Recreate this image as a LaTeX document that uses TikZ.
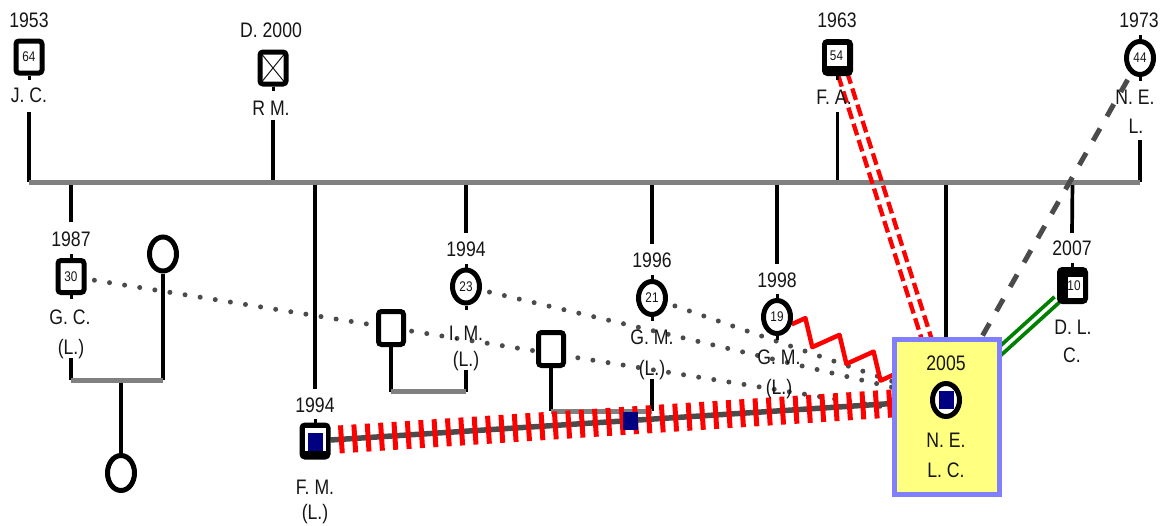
\documentclass[tikz,border=0pt]{standalone}
\usepackage{fontspec}
\setmainfont[FakeStretch=0.84]{Liberation Sans}
\usetikzlibrary{calc,shapes.geometric,decorations.pathmorphing}
\pgfdeclarelayer{back}
\pgfsetlayers{back,main}
\definecolor{navyblue}{RGB}{0,0,128}
\definecolor{bargray}{RGB}{128,128,128}
\definecolor{darkgray}{RGB}{75,75,75}
\definecolor{indexfill}{RGB}{255,255,128}
\definecolor{indexedge}{RGB}{128,128,255}
\definecolor{labelink}{RGB}{22,22,22}
\definecolor{tiegreen}{RGB}{0,128,0}
\begin{document}
\begin{tikzpicture}[x=1pt,y=-1pt,
  txt/.style={font=\fontsize{21pt}{24pt}\selectfont, text=labelink, inner sep=0pt, text height=15pt, text depth=0pt},
  agetxt/.style={font=\fontsize{14pt}{16pt}\selectfont, text=labelink, inner sep=0pt},
  male/.style={draw=black, line width=5pt, rounded corners=3pt, fill=white, minimum width=26pt, minimum height=32pt, inner sep=0pt, agetxt},
  female/.style={ellipse, draw=black, line width=5pt, fill=white, minimum width=27pt, minimum height=33pt, inner sep=0pt, agetxt},
  marked/.style={male, fill=black},
  stub/.style={draw=black, line width=3pt},
  kin/.style={draw=black, line width=3.7pt},
  bond/.style={draw=bargray, line width=5pt},
  dotline/.style={draw=darkgray, line width=5pt, line cap=round, dash pattern=on 0pt off 15.3pt, dash phase=7.3pt},
  zigline/.style={draw=red, line width=4.5pt, line join=round, decorate, decoration={zigzag, segment length=38pt, amplitude=11.5pt}},
  hatchbase/.style={draw=darkgray, line width=5.5pt},
  hatchticks/.style={draw=red, line width=28pt, dash pattern=on 5pt off 8.4pt, dash phase=5pt},
  navysq/.style={fill=navyblue, minimum width=15pt, minimum height=18pt, inner sep=0pt},
  redtie/.style={draw=red, line width=4.3pt, dash pattern=on 12pt off 5pt},
  greytie/.style={draw=darkgray, line width=5pt, dash pattern=on 14pt off 14pt},
  greentie/.style={draw=tiegreen, line width=3.8pt, double=white, double distance=3.4pt}
]
\useasboundingbox (0,0) rectangle (1167,525);

% ---------- parents' generation ----------
\node[male] (jc) at (29,57) {64};
\node[txt] (jcy) at (29,19.5) {1953};
\node[txt] (jcn) at (29,95) {J. C.};

\node[male, path picture={\draw[line width=1pt, labelink]
    (path picture bounding box.north west) -- (path picture bounding box.south east)
    (path picture bounding box.north east) -- (path picture bounding box.south west);}] (rm) at (273,68) {};
\node[txt] (rmy) at (271,30) {D. 2000};
\node[txt] (rmn) at (271,107.5) {R M.};

\node[marked] (fa) at (837.5,57.5) {};
\fill[white] ($(fa)+(-10.5,-12.5)$) rectangle ($(fa)+(9.5,8.5)$);
\node[agetxt] (faage) at ($(fa)+(-1,-2)$) {54};
\node[txt] (fay) at (837,19.5) {1963};
\node[txt] (fan) at (834,97) {F. A.};

\node[female] (nel) at (1140,58) {44};
\node[txt] (nely) at (1139,19.5) {1973};
\node[txt] (neln1) at (1135,97) {N. E.};
\node[txt] (neln2) at (1136,126) {L.};

% ---------- children's generation ----------
\node[male] (gc) at (71,276.5) {30};
\node[txt] (gcy) at (71,238.5) {1987};
\node[txt] (gcn1) at (70,317) {G. C.};
\node[txt] (gcn2) at (71,347) {(L.)};
\node[female, minimum height=34pt] (gcp) at (163,254) {};
\node[female, minimum height=35pt] (gck) at (121,473) {};

\node[marked] (fm) at (315,441) {};
\fill[white] ($(fm)+(-10.5,-13.5)$) rectangle ($(fm)+(10.5,10)$);
\fill[navyblue] ($(fm)+(-7.5,-8)$) rectangle ($(fm)+(7.5,10)$);
\node[txt] (fmy) at (315,405) {1994};
\node[txt] (fmn1) at (315,487) {F. M.};
\node[txt] (fmn2) at (315,512) {(L.)};

\node[female] (im) at (466,286.5) {23};
\node[txt] (imy) at (466,249) {1994};
\node[txt] (imn1) at (466,333) {I. M.};
\node[txt] (imn2) at (466,359) {(L.)};
\node[male, minimum width=25pt, minimum height=33pt] (imp) at (391,328) {};

\node[female] (gma) at (652,298) {21};
\node[txt] (gmay) at (652,260) {1996};
\node[txt] (gman1) at (652,337) {G. M.};
\node[txt] (gman2) at (652,367.5) {(L.)};
\node[male, minimum width=25pt, minimum height=33pt] (gmap) at (551,349) {};

\node[female] (gmb) at (777,317) {19};
\node[txt] (gmby) at (777,280) {1998};
\node[txt] (gmbn1) at (779,357) {G. M.};
\node[txt] (gmbn2) at (779,387) {(L.)};

\node[draw=indexedge, fill=indexfill, line width=5pt, minimum width=105pt, minimum height=155pt, inner sep=0pt] (idx) at (947,417) {};
\node[txt] (idxy) at (946,363) {2005};
\node[female, minimum height=33pt] (idxc) at (946,400) {};
\node[navysq] (idxsq) at (idxc) {};
\node[txt] (idxn1) at (946,440) {N. E.};
\node[txt] (idxn2) at (946,470) {L. C.};

\node[marked] (dlc) at (1072.5,285.5) {};
\fill[white] ($(dlc)+(-4.5,-9)$) rectangle ($(dlc)+(10.5,12.5)$);
\node[agetxt] (dlcage) at (1074,286) {10};
\node[txt] (dlcy) at (1072,248) {2007};
\node[txt] (dlcn1) at (1073,327) {D. L.};
\node[txt] (dlcn2) at (1072,355) {C.};

% small stems on the symbols
\draw[stub] (jc.south) -- ++(0,4);
\draw[stub] (rm.south) -- ++(0,4);
\draw[stub] (fa.south) -- ++(0,4);
\draw[stub] (nel.north) -- ++(0,-4);
\draw[stub] (nel.south) -- ++(0,4);
\draw[stub] (gc.north) -- ++(0,-4);
\draw[stub] (gc.south) -- ++(0,4);
\draw[stub] (fm.north) -- ++(0,-4);
\draw[stub] (im.north) -- ++(0,-4);
\draw[stub] (im.south) -- ++(0,4);
\draw[stub] (gma.north) -- ++(0,-4);
\draw[stub] (gma.south) -- ++(0,4);
\draw[stub] (gmb.north) -- ++(0,-4);
\draw[stub] (gmb.south) -- ++(0,4);
\draw[stub] (dlc.north) -- ++(0,-4);

\begin{pgfonlayer}{back}
  % family lines
  \coordinate (barL) at (29,182);
  \coordinate (barR) at (1140,182);
  \draw[kin] ($(jc |- jcn.south)+(0,9.5)$) -- (jc |- barL);
  \draw[kin] ($(rm |- rmn.south)+(0,5)$) -- (rm |- barL);
  \draw[kin] ($(fa |- fan.south)+(0,7.5)$) -- (fa |- barL);
  \draw[kin] ($(nel |- neln2.south)+(0,6.5)$) -- (nel |- barL);

  \draw[kin] (gc |- barL) -- ($(gcy.north)+(0,-8.5)$);
  \draw[kin] (fm |- barL) -- ($(fmy.north)+(0,-8.5)$);
  \draw[kin] (im |- barL) -- ($(imy.north)+(0,-8.5)$);
  \draw[kin] (gma |- barL) -- ($(gmay.north)+(0,-8.5)$);
  \draw[kin] (gmb |- barL) -- ($(gmby.north)+(0,-8.5)$);
  \draw[kin] (idxc |- barL) -- (idxc |- idx.north);
  \draw[kin] (dlc |- barL) -- ($(dlcy.north)+(0,-7.5)$);
  \draw[bond] (barL) -- (barR);

  % couples and their child
  \coordinate (gcu) at (117,380);
  \draw[kin] ($(gcn2.south)+(0,3.5)$) -- (gcn2 |- gcu);
  \draw[kin] (gcp.south) -- (gcp |- gcu);
  \draw[kin] (gck |- gcu) -- (gck.north);
  \draw[bond] (gcn2 |- gcu) -- (gcp |- gcu);

  \coordinate (imu) at (430,391.5);
  \draw[kin] ($(imn2.south)+(0,3.5)$) -- (imn2 |- imu);
  \draw[kin] (imp.south) -- (imp |- imu);
  \draw[bond] (imp |- imu) -- (imn2 |- imu);

  \coordinate (gmau) at (600,411);
  \draw[kin] ($(gman2.south)+(0,4)$) -- (gman2 |- gmau);
  \draw[kin] (gmap.south) -- (gmap |- gmau);
  \draw[bond] (gmap |- gmau) -- (gman2 |- gmau);

  % relationships with the index person
  \draw[dotline] (gc) -- (idx.center);
  \draw[dotline] (im) -- (idxc);
  \draw[dotline] (gma) -- (idxc);
  \draw[zigline] (gmb) -- (idxc);
  \draw[hatchbase] (fm) -- (idxc);
  \draw[hatchticks] (fm) -- (idxc);
  \path (fm) -- node[navysq, pos=0.5] (fmmid) {} (idxc);
  \draw[redtie] ($(fa)!4.75pt!90:(idxc)$) -- ($(idxc)!4.75pt!-90:(fa)$);
  \draw[redtie] ($(fa)!4.75pt!-90:(idxc)$) -- ($(idxc)!4.75pt!90:(fa)$);
  \draw[greytie] (idxc) -- (nel);
  \draw[greentie] (idxc) -- (dlc);
\end{pgfonlayer}
\end{tikzpicture}
\end{document}
